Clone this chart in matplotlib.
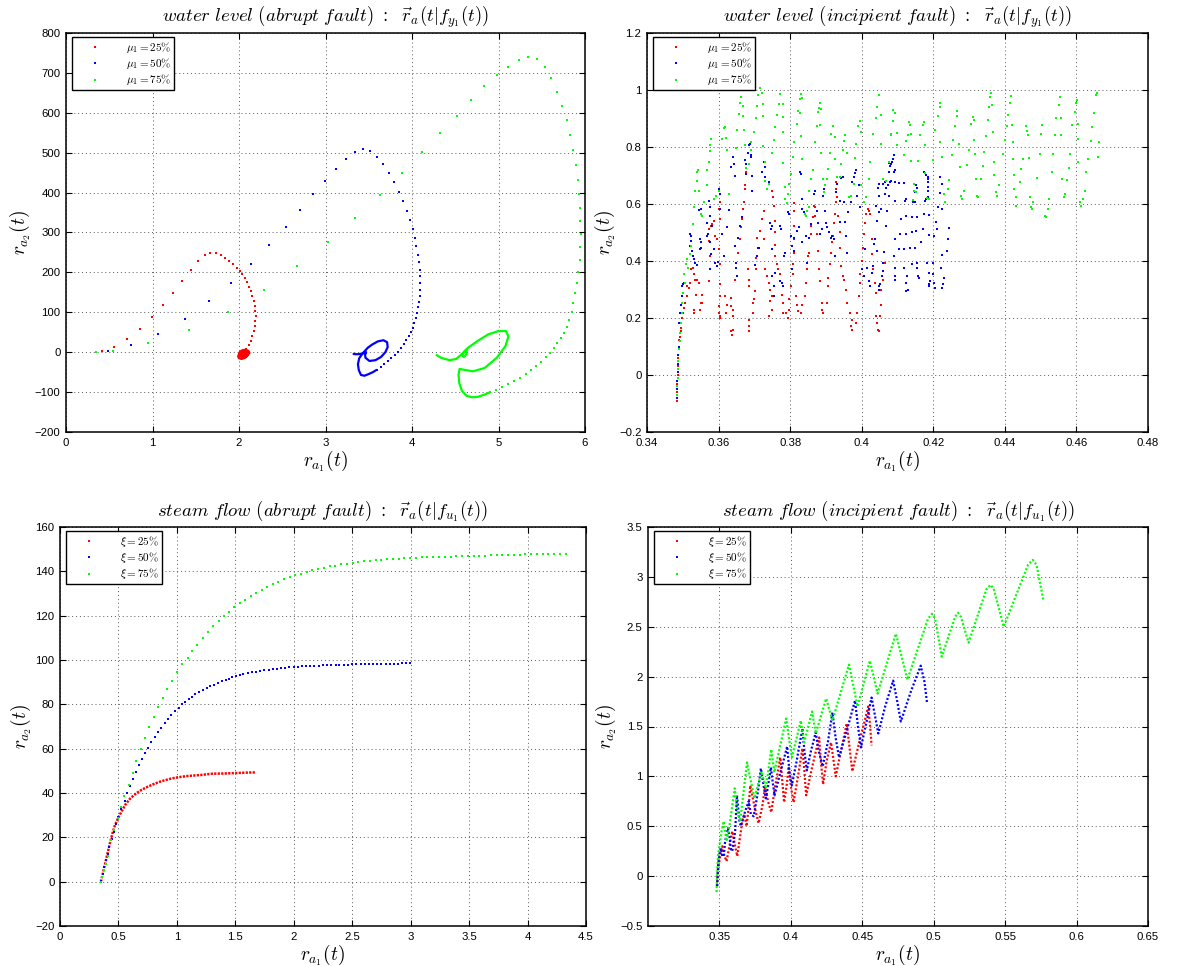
import numpy as np
import matplotlib
matplotlib.use("Agg")
import matplotlib.pyplot as plt
from matplotlib.lines import Line2D
from matplotlib.ticker import FuncFormatter

plt.rcParams['font.family'] = ['Liberation Sans', 'DejaVu Sans']
plt.rcParams['mathtext.fontset'] = 'cm'

RED, BLUE, GREEN = '#ff0000', '#0000ff', '#00ff00'

# ---------------- data: water level, abrupt fault (top-left) ----------------
tl_red_sparse = [(0.347,0),(0.417,2),(0.554,12.6),(0.71,32),(0.858,58),(0.994,88),(1.127,119),(1.24,149),
    (1.345,179),(1.442,205),(1.524,228),(1.602,243),(1.669,249),(1.73,248.5),(1.79,243.5),(1.84,237),
    (1.89,229),(1.934,220),(1.973,211.6),(2.008,203),(2.04,195),(2.066,185),(2.094,175),(2.117,164.6),
    (2.136,153.7),(2.156,141),(2.17,128),(2.183,116),(2.19,103),(2.195,90.7),(2.19,78),(2.183,65.5),
    (2.17,53),(2.156,40),(2.136,27.7),(2.113,16.8),(2.086,8.4),(2.05,2.5)]
tl_red_dense = [(2.05,2.5),(2.02,0),(2.0,-5),(1.99,-11),(2.0,-15),(2.03,-17),(2.07,-14),(2.10,-8),(2.12,-2),
    (2.11,3),(2.08,6),(2.04,5),(2.01,1),(2.0,-5),(2.02,-10),(2.05,-13),(2.08,-11),(2.10,-6),(2.09,-1),
    (2.06,2),(2.03,0),(2.02,-5),(2.03,-9),(2.06,-10),(2.08,-7),(2.07,-3),(2.05,-2),(2.04,-5),(2.05,-7),(2.06,-5)]
tl_blue_sparse = [(0.35,0),(0.483,2.5),(0.756,18.5),(1.068,46),(1.372,84),(1.649,127.6),(1.906,174.6),
    (2.136,221.7),(2.343,269.5),(2.538,314),(2.70,357),(2.858,395.5),(2.998,429),(3.123,460),(3.236,484.5),
    (3.341,502),(3.431,510.5),(3.517,504.6),(3.595,490),(3.669,471),(3.735,450),(3.797,426.5),(3.852,402),
    (3.899,379.5),(3.942,355),(3.977,332.5),(4.008,309),(4.031,286),(4.05,265),(4.07,244),(4.082,225),
    (4.09,206.5),(4.097,190),(4.097,173),(4.097,157),(4.094,141),(4.086,126),(4.074,112.5),(4.062,99),
    (4.047,85.6),(4.027,73),(4.008,61),(3.984,50),(3.961,40),(3.934,30),(3.903,20),(3.871,11),(3.836,1.7),
    (3.801,-6.7),(3.762,-15),(3.723,-22.7),(3.68,-30),(3.637,-37),(3.595,-43.7)]
tl_blue_dense = [(3.595,-43.7),(3.548,-50),(3.497,-55),(3.45,-59),(3.41,-57),(3.385,-45),(3.375,-30),
    (3.39,-15),(3.43,-3),(3.488,11),(3.538,19),(3.604,27),(3.67,30),(3.712,25),(3.719,13),(3.692,0),
    (3.642,-12),(3.577,-20),(3.508,-22),(3.462,-14),(3.458,-6),(3.47,0),(3.431,-3),(3.385,-5),(3.346,-5),(3.315,-4)]
tl_green_sparse = [(0.347,0),(0.542,2.5),(0.951,22),(1.419,56),(1.871,101.6),(2.285,157),(2.674,215),
    (3.025,275),(3.345,336),(3.626,394.6),(3.883,449),(4.113,501),(4.324,549),(4.515,593),(4.682,632),
    (4.838,666),(4.982,694),(5.115,716),(5.236,733),(5.345,741),(5.442,736),(5.532,715),(5.61,687),
    (5.676,653),(5.739,618),(5.79,582),(5.832,544),(5.867,507),(5.895,469),(5.914,431.6),(5.93,397),
    (5.942,362),(5.945,328),(5.949,295),(5.945,263),(5.938,232),(5.922,202),(5.906,174),(5.883,148),
    (5.86,124),(5.848,101),(5.817,80),(5.79,63),(5.76,48.7),(5.72,35),(5.68,22.7),(5.64,11),(5.6,-1),
    (5.548,-12.6),(5.493,-23.5),(5.435,-34),(5.376,-44.5),(5.314,-54.6),(5.248,-64),(5.18,-72),
    (5.11,-80.6),(5.04,-88),(4.97,-95),(4.9,-100.8)]
tl_green_dense = [(4.9,-100.8),(4.834,-106.6),(4.764,-111.7),(4.694,-113),(4.628,-109),(4.577,-96.6),
    (4.546,-77),(4.538,-56),(4.55,-42),(4.6,-44),(4.705,-48),(4.84,-39.5),(4.98,-14),(5.08,15),(5.115,40),
    (5.085,53),(5.0,53),(4.88,44.5),(4.764,29),(4.647,11),(4.6,0),(4.58,-8),(4.6,-12),(4.63,-5),(4.63,7),
    (4.61,2.5),(4.57,-6),(4.51,-17),(4.433,-20),(4.336,-14),(4.277,-6)]

# ---------------- data: water level, incipient fault (top-right) ----------------
tr_red = [(0.3483,-0.09),(0.3484,-0.06),(0.3485,-0.03),(0.3486,0.0),(0.3487,0.03),(0.3488,0.06),(0.3489,0.09),
    (0.3489,0.124),(0.3492,0.135),(0.3495,0.153),(0.3496,0.165),(0.3498,0.2),(0.3501,0.218),(0.3504,0.235),
    (0.3505,0.253),(0.3513,0.276),(0.3513,0.312),(0.3516,0.306),(0.3519,0.324),(0.3523,0.371),(0.3528,0.376),
    (0.3532,0.353),(0.3534,0.335),(0.354,0.335),(0.3546,0.324),(0.3531,0.229),(0.3532,0.218),(0.3537,0.282),
    (0.355,0.253),(0.3553,0.282),(0.3555,0.253),(0.3549,0.229),(0.3573,0.329),(0.3576,0.371),(0.3577,0.418),
    (0.3573,0.471),(0.3573,0.512),(0.3579,0.524),(0.3582,0.529),(0.3586,0.541),(0.3591,0.486),(0.3595,0.476),
    (0.3603,0.547),(0.3602,0.582),(0.3605,0.606),(0.36,0.441),(0.3603,0.388),(0.3605,0.318),(0.3603,0.276),
    (0.3602,0.241),(0.3601,0.218),(0.3603,0.206),(0.3605,0.2),(0.3618,0.276),(0.3623,0.247),(0.3621,0.218),
    (0.3636,0.271),(0.3636,0.241),(0.3641,0.229),(0.3641,0.206),(0.3639,0.159),(0.3637,0.141),(0.3635,0.153),
    (0.3645,0.335),(0.365,0.376),(0.3654,0.429),(0.3659,0.476),(0.3663,0.521),(0.3666,0.549),(0.3669,0.582),
    (0.3672,0.606),(0.3675,0.665),(0.3677,0.712),(0.3675,0.653),(0.3681,0.371),(0.3684,0.335),(0.3686,0.312),
    (0.3684,0.153),(0.3686,0.171),(0.3684,0.194),(0.3695,0.218),(0.3696,0.253),(0.3698,0.265),(0.3702,0.294),
    (0.3704,0.371),(0.3705,0.412),(0.3708,0.482),(0.3717,0.506),(0.372,0.547),(0.3726,0.576),(0.3726,0.476),
    (0.3731,0.371),(0.3735,0.347),(0.374,0.324),(0.3744,0.3),(0.3749,0.276),(0.3744,0.259),(0.374,0.206),
    (0.3749,0.229),(0.375,0.647),(0.3753,0.624),(0.3756,0.594),(0.3758,0.541),(0.3759,0.5),(0.3758,0.455),
    (0.3759,0.418),(0.3762,0.388),(0.3767,0.371),(0.3771,0.353),(0.3776,0.282),(0.378,0.253),(0.378,0.218),
    (0.3789,0.218),(0.3794,0.2),(0.3798,0.229),(0.3798,0.265),(0.3803,0.312),(0.3807,0.353),(0.3807,0.388),
    (0.381,0.429),(0.3812,0.476),(0.381,0.524),(0.3812,0.576),(0.3812,0.604),(0.3816,0.276),(0.3819,0.247),
    (0.3821,0.224),(0.383,0.218),(0.3834,0.247),(0.3841,0.276),(0.3843,0.324),(0.3846,0.371),(0.385,0.418),
    (0.3852,0.429),(0.3857,0.494),(0.3859,0.524),(0.3864,0.556),(0.3867,0.592),(0.387,0.588),(0.387,0.559),
    (0.3875,0.494),(0.3879,0.435),(0.3881,0.371),(0.3884,0.329),(0.3888,0.253),(0.3888,0.229),(0.3893,0.218),
    (0.3902,0.253),(0.3906,0.312),(0.3906,0.341),(0.3911,0.388),(0.3913,0.429),(0.3917,0.465),(0.392,0.488),
    (0.3922,0.535),(0.3924,0.565),(0.3927,0.606),(0.3927,0.653),(0.3929,0.676),(0.3932,0.624),(0.3933,0.559),
    (0.3938,0.5),(0.394,0.447),(0.3942,0.382),(0.3947,0.347),(0.3951,0.335),(0.3956,0.3),(0.396,0.253),
    (0.3967,0.218),(0.3972,0.194),(0.3969,0.171),(0.3974,0.159),(0.3983,0.182),(0.3987,0.218),(0.3992,0.276),
    (0.3994,0.324),(0.3996,0.353),(0.4001,0.4),(0.4003,0.447),(0.4005,0.494),(0.401,0.535),(0.4013,0.565),
    (0.4017,0.582),(0.4021,0.576),(0.4023,0.565),(0.4028,0.476),(0.403,0.424),(0.4032,0.371),(0.4037,0.324),
    (0.4039,0.288),(0.4041,0.206),(0.4044,0.182),(0.4046,0.159),(0.4048,0.153),(0.405,0.206),(0.4053,0.247),
    (0.4055,0.3),(0.4059,0.335),(0.4064,0.394)]
tr_blue = [(0.3483,-0.08),(0.3484,-0.05),(0.3485,-0.02),(0.3486,0.01),(0.3487,0.04),(0.3488,0.07),(0.3489,0.1),
    (0.3489,0.182),(0.3492,0.218),(0.3495,0.247),(0.3498,0.276),(0.3498,0.312),(0.3501,0.318),(0.3504,0.324),
    (0.3519,0.494),(0.3522,0.488),(0.3523,0.471),(0.3521,0.453),(0.3525,0.435),(0.3528,0.418),(0.3531,0.406),
    (0.3534,0.394),(0.354,0.385),(0.3549,0.441),(0.355,0.447),(0.3552,0.465),(0.3548,0.476),(0.3546,0.58),
    (0.355,0.582),(0.3567,0.535),(0.3568,0.488),(0.357,0.494),(0.3573,0.612),(0.3575,0.588),(0.3577,0.559),
    (0.3582,0.524),(0.3577,0.467),(0.3579,0.424),(0.3577,0.371),(0.3586,0.441),(0.3591,0.394),(0.3595,0.382),
    (0.3598,0.396),(0.3603,0.634),(0.36,0.646),(0.3602,0.653),(0.3605,0.582),(0.3609,0.494),(0.3614,0.418),
    (0.3623,0.521),(0.3628,0.58),(0.3636,0.729),(0.3641,0.765),(0.3642,0.741),(0.3647,0.698),(0.3646,0.451),
    (0.3648,0.394),(0.365,0.376),(0.3651,0.347),(0.3654,0.482),(0.366,0.524),(0.3666,0.553),(0.3673,0.753),
    (0.3677,0.706),(0.3678,0.741),(0.3682,0.779),(0.3686,0.806),(0.3687,0.809),(0.369,0.771),(0.3692,0.765),
    (0.3693,0.698),(0.3694,0.646),(0.3702,0.385),(0.3706,0.418),(0.3709,0.447),(0.3714,0.446),(0.3722,0.712),
    (0.3726,0.747),(0.3729,0.729),(0.3731,0.694),(0.374,0.676),(0.3744,0.535),(0.3747,0.512),(0.3749,0.524),
    (0.375,0.441),(0.375,0.347),(0.3754,0.312),(0.3756,0.276),(0.3759,0.359),(0.3771,0.329),(0.3771,0.524),
    (0.3774,0.512),(0.3778,0.324),(0.3781,0.312),(0.3783,0.418),(0.3785,0.429),(0.3795,0.571),(0.3797,0.565),
    (0.3803,0.488),(0.3805,0.453),(0.3806,0.371),(0.381,0.435),(0.3812,0.482),(0.3819,0.506),(0.3826,0.521),
    (0.3828,0.712),(0.383,0.706),(0.3834,0.618),(0.3832,0.582),(0.3834,0.465),(0.3839,0.571),(0.3843,0.488),
    (0.3848,0.394),(0.3852,0.482),(0.3859,0.529),(0.3866,0.635),(0.3864,0.718),(0.387,0.647),(0.3875,0.576),
    (0.3878,0.535),(0.3884,0.494),(0.3888,0.512),(0.3891,0.629),(0.3895,0.653),(0.3897,0.576),(0.39,0.535),
    (0.3902,0.518),(0.3908,0.5),(0.3913,0.482),(0.3918,0.488),(0.3922,0.476),(0.3925,0.418),(0.3929,0.641),
    (0.3932,0.671),(0.3938,0.612),(0.394,0.538),(0.3943,0.691),(0.3947,0.694),(0.395,0.608),(0.3954,0.538),
    (0.3956,0.488),(0.3959,0.429),(0.3963,0.571),(0.3969,0.606),(0.3974,0.676),(0.3978,0.694),(0.3981,0.709),
    (0.3985,0.718),(0.3987,0.629),(0.3992,0.665),(0.3996,0.588),(0.4001,0.371),(0.4005,0.347),(0.401,0.441),
    (0.4014,0.376),(0.4019,0.329),(0.4023,0.312),(0.4028,0.359),(0.4031,0.382),(0.4035,0.459),(0.4044,0.541),
    (0.4049,0.571),(0.4055,0.582),(0.4064,0.635),(0.4068,0.656),(0.4075,0.714),(0.408,0.732),(0.4078,0.676),
    (0.409,0.773),(0.4087,0.759),(0.4085,0.747),(0.4081,0.741),(0.4076,0.745),(0.4094,0.721),(0.409,0.712),
    (0.4083,0.682),(0.4078,0.676),(0.4074,0.665),(0.4065,0.676),(0.406,0.671),(0.4047,0.671),(0.4045,0.655),
    (0.4049,0.629),(0.4076,0.629),(0.4092,0.612),(0.4092,0.676),(0.4105,0.673),(0.4119,0.674),(0.4121,0.612),
    (0.4123,0.618),(0.4144,0.606),(0.4148,0.608),(0.4153,0.667),(0.415,0.641),(0.4155,0.655),(0.4175,0.712),
    (0.418,0.702),(0.4184,0.694),(0.4186,0.688),(0.4186,0.676),(0.4185,0.659),(0.4186,0.647),(0.4184,0.624),
    (0.418,0.618),(0.4177,0.612),(0.422,0.694),(0.4223,0.671),(0.4218,0.638),(0.4214,0.588),(0.4223,0.582),
    (0.404,0.594),(0.4072,0.576),(0.411,0.549),(0.4123,0.559),(0.4141,0.553),(0.4155,0.555),(0.4175,0.564),
    (0.4189,0.561),(0.4207,0.538),(0.4209,0.512),(0.4243,0.515),(0.4241,0.476),(0.4238,0.435),(0.4225,0.42),
    (0.4221,0.376),(0.4229,0.341),(0.4227,0.318),(0.4225,0.306),(0.4069,0.524),(0.4092,0.476),(0.4108,0.494),
    (0.4123,0.496),(0.4141,0.502),(0.4153,0.506),(0.4171,0.514),(0.4189,0.491),(0.4202,0.488),(0.4166,0.467),
    (0.415,0.447),(0.4135,0.445),(0.4119,0.441),(0.4103,0.441),(0.409,0.418),(0.4063,0.432),(0.4042,0.435),
    (0.4038,0.476),(0.406,0.394),(0.4059,0.365),(0.4056,0.347),(0.4051,0.318),(0.4047,0.314),(0.4049,0.298),
    (0.4092,0.376),(0.4094,0.347),(0.4092,0.335),(0.4119,0.376),(0.4126,0.349),(0.4123,0.324),(0.4123,0.294),
    (0.4128,0.3),(0.4155,0.376),(0.4157,0.347),(0.4159,0.341),(0.4155,0.394),(0.4141,0.388),(0.4182,0.394),
    (0.4189,0.359),(0.4191,0.329),(0.4189,0.312),(0.4187,0.318),(0.4198,0.394),(0.4198,0.353),(0.4202,0.324),
    (0.4205,0.306)]
tr_green = [(0.3484,-0.07),(0.3485,-0.04),(0.3486,-0.01),(0.3487,0.02),(0.3488,0.05),(0.349,0.09),(0.3491,0.12),
    (0.3492,0.149),(0.3495,0.182),(0.3498,0.218),(0.3498,0.253),(0.3501,0.288),(0.3505,0.324),(0.3504,0.356),
    (0.351,0.388),(0.3514,0.376),(0.3513,0.406),(0.3519,0.424),(0.3523,0.453),(0.3528,0.529),(0.3531,0.588),
    (0.3535,0.644),(0.354,0.682),(0.354,0.712),(0.3543,0.718),(0.3546,0.644),(0.355,0.565),(0.3553,0.559),
    (0.3559,0.606),(0.3567,0.665),(0.3568,0.718),(0.3573,0.747),(0.3576,0.785),(0.3576,0.806),(0.358,0.829),
    (0.3588,0.618),(0.3594,0.629),(0.36,0.647),(0.3609,0.829),(0.3614,0.865),(0.3618,0.871),(0.3621,0.832),
    (0.3623,0.788),(0.363,0.634),(0.365,0.796),(0.3652,0.859),(0.3657,0.915),(0.366,0.953),(0.3664,0.976),
    (0.3669,0.945),(0.3669,0.908),(0.367,0.859),(0.3673,0.808),(0.3677,0.727),(0.3684,0.741),(0.369,0.788),
    (0.369,0.818),(0.3699,0.853),(0.3704,0.902),(0.3708,0.945),(0.3711,0.982),(0.3717,1.006),(0.3722,0.988),
    (0.3723,0.952),(0.3723,0.909),(0.3724,0.802),(0.3729,0.747),(0.3731,0.682),(0.3735,0.653),(0.3741,0.671),
    (0.3749,0.779),(0.3755,0.824),(0.3759,0.869),(0.3764,0.913),(0.3768,0.952),(0.3773,0.985),(0.3779,0.952),
    (0.3779,0.906),(0.378,0.853),(0.378,0.744),(0.3785,0.659),(0.3787,0.618),(0.379,0.604),(0.3794,0.635),
    (0.3797,0.671),(0.3803,0.706),(0.3807,0.765),(0.381,0.818),(0.3819,0.879),(0.3823,0.927),(0.3828,0.968),
    (0.3831,0.987),(0.3832,0.971),(0.3828,0.921),(0.383,0.839),(0.3834,0.759),(0.3841,0.565),(0.3843,0.558),
    (0.3848,0.576),(0.3852,0.588),(0.3854,0.645),(0.3859,0.686),(0.3864,0.718),(0.387,0.818),(0.3875,0.875),
    (0.3878,0.924),(0.3882,0.938),(0.3884,0.956),(0.3886,0.935),(0.3884,0.876),(0.3886,0.778),(0.3891,0.686),
    (0.3895,0.641),(0.3897,0.665),(0.3902,0.688),(0.3906,0.724),(0.3911,0.779),(0.3915,0.847),(0.392,0.873),
    (0.3924,0.835),(0.3924,0.759),(0.3932,0.694),(0.3938,0.696),(0.3943,0.741),(0.3947,0.788),(0.3951,0.82),
    (0.3954,0.841),(0.3959,0.78),(0.3965,0.624),(0.3969,0.629),(0.3978,0.671),(0.398,0.761),(0.3985,0.812),
    (0.399,0.874),(0.3994,0.891),(0.3997,0.851),(0.3999,0.665),(0.4006,0.606),(0.4013,0.624),(0.4019,0.688),
    (0.4023,0.747),(0.4032,0.847),(0.4039,0.9),(0.4044,0.941),(0.4049,0.982),(0.4053,0.914),(0.4055,0.812),
    (0.4059,0.688),(0.4068,0.679),(0.4075,0.747),(0.4082,0.841),
    (0.4087,0.929),(0.4093,0.918),(0.4087,0.891),(0.4099,0.849),(0.4083,0.844),(0.4099,0.806),(0.4119,0.773),
    (0.4123,0.82),(0.413,0.841),(0.4131,0.888),(0.4135,0.876),(0.4137,0.844),(0.4137,0.752),(0.4146,0.669),
    (0.4153,0.641),(0.4146,0.647),(0.4144,0.615),(0.4157,0.752),(0.4164,0.841),(0.417,0.876),(0.4173,0.888),
    (0.4176,0.806),(0.4176,0.709),(0.4182,0.62),(0.4187,0.618),(0.42,0.756),(0.4205,0.859),(0.4214,0.909),
    (0.4218,0.941),(0.422,0.954),(0.4219,0.818),(0.4225,0.764),(0.4231,0.635),(0.4234,0.608),(0.4241,0.651),
    (0.4243,0.685),(0.4252,0.773),(0.4256,0.824),(0.4261,0.873),(0.4265,0.909),(0.4267,0.926),(0.4272,0.809),
    (0.4274,0.729),(0.4277,0.629),(0.4281,0.618),(0.4287,0.646),(0.4295,0.738),(0.4299,0.788),(0.4306,0.882),
    (0.431,0.906),(0.4313,0.894),(0.4315,0.824),(0.4317,0.776),(0.4319,0.688),(0.4322,0.629),(0.4326,0.624),
    (0.4333,0.688),(0.4338,0.733),(0.4342,0.782),(0.4346,0.839),(0.4353,0.894),(0.4355,0.941),(0.4359,0.976),
    (0.4362,0.988),(0.4365,0.947),(0.4366,0.851),(0.4369,0.749),(0.4371,0.702),(0.4374,0.641),(0.4378,0.627),
    (0.4385,0.667),(0.4396,0.776),(0.44,0.824),(0.4405,0.873),(0.4409,0.914),(0.4414,0.953),(0.4418,0.98),
    (0.442,0.876),(0.4423,0.818),(0.4423,0.759),(0.4425,0.7),(0.4425,0.653),(0.443,0.624),(0.4432,0.594),
    (0.4441,0.676),(0.4446,0.724),(0.4452,0.759),(0.4459,0.873),(0.4463,0.855),(0.4466,0.841),(0.4468,0.761),
    (0.447,0.624),(0.4473,0.591),(0.4476,0.582),(0.4479,0.606),(0.449,0.691),(0.4497,0.776),(0.4502,0.844),
    (0.4505,0.876),(0.4511,0.559),(0.4515,0.553),(0.452,0.582),(0.4524,0.618),(0.4532,0.712),(0.4535,0.776),
    (0.454,0.841),(0.4544,0.902),(0.4551,0.947),(0.4554,0.976),(0.4556,0.9),(0.4556,0.841),(0.456,0.688),
    (0.4565,0.624),(0.4569,0.635),(0.4574,0.685),(0.4578,0.726),(0.4583,0.776),(0.4589,0.876),(0.4595,0.924),
    (0.4598,0.956),(0.4601,0.965),(0.4604,0.879),(0.4605,0.827),(0.4605,0.747),(0.461,0.606),(0.4614,0.594),
    (0.4619,0.618),(0.4623,0.647),(0.4628,0.714),(0.4632,0.759),(0.464,0.82),(0.4643,0.871),(0.4649,0.918),
    (0.4655,0.982),(0.4658,0.988),(0.466,0.765),(0.4662,0.818)]

# ---------------- data: steam flow, abrupt fault (bottom-left) ----------------
bl_red = [(0.35,0),(0.37,4.5),(0.39,9),(0.41,13.5),(0.43,18),(0.45,22),(0.47,25.5),(0.5,29),(0.53,32),
    (0.56,34.8),(0.6,37.5),(0.65,39.8),(0.7,41.5),(0.75,42.8),(0.8,44),(0.85,45),(0.9,45.8),(0.95,46.5),
    (1.0,47),(1.05,47.4),(1.1,47.7),(1.2,48.1),(1.3,48.7),(1.4,48.8),(1.5,49),(1.6,49.2),(1.67,49.3)]
bl_blue = [(0.351,0.5),(0.365,3.6),(0.38,6.6),(0.394,9.6),(0.408,12.7),(0.423,15.7),(0.443,19.4),(0.46,22.4),
    (0.48,25.8),(0.5,29.2),(0.525,33),(0.552,36.3),(0.574,40),(0.598,43.3),(0.623,46.5),(0.646,49.5),
    (0.672,52.6),(0.70,55.3),(0.729,58.1),(0.752,60.5),(0.781,62.8),(0.809,65.1),(0.838,67.3),(0.867,69.4),
    (0.895,71.4),(0.924,73.3),(0.953,75.2),(0.987,77),(1.016,78.5),(1.044,80),(1.073,81.2),(1.102,82.4),
    (1.13,83.4),(1.159,84.5),(1.188,85.4),(1.222,86.4),(1.256,87.3),(1.285,88.3),(1.314,88.9),(1.348,89.6),
    (1.383,90.4),(1.417,91),(1.446,91.6),(1.474,92.2),(1.503,92.7),(1.54,93.1),(1.569,93.5),(1.606,94),
    (1.64,94.4),(1.675,94.7),(1.712,95),(1.746,95.3),(1.784,95.6),(1.818,95.9),(1.855,96.1),(1.89,96.4),
    (1.927,96.5),(1.961,96.7),(1.999,96.8),(2.033,97),(2.07,97.1),(2.105,97.3),(2.142,97.4),(2.176,97.4),
    (2.213,97.5),(2.248,97.6),(2.285,97.7),(2.319,97.7),(2.357,97.7),(2.391,97.8),(2.428,97.9),(2.463,97.9),
    (2.5,98),(2.534,98),(2.572,98.1),(2.606,98.1),(2.643,98.2),(2.678,98.2),(2.715,98.3),(2.749,98.3),
    (2.787,98.3),(2.821,98.4),(2.855,98.4),(2.89,98.4),(2.925,98.5),(2.96,98.5),(2.995,98.5)]
bl_green = [(0.352,0),(0.362,2.2),(0.378,5.2),(0.392,8),(0.41,11.5),(0.437,18.7),(0.466,23.2),(0.494,28.5),
    (0.52,33.5),(0.548,38.7),(0.588,43.8),(0.621,49.2),(0.654,54.5),(0.69,59.8),(0.723,64.9),(0.762,69.7),
    (0.802,74.3),(0.838,78.6),(0.877,82.9),(0.917,86.9),(0.959,90.7),(1.002,94.5),(1.045,98),(1.091,101.1),
    (1.133,104.2),(1.176,106.9),(1.222,109.9),(1.268,112.6),(1.311,115.2),(1.357,117.6),(1.403,119.8),
    (1.449,121.8),(1.491,123.8),(1.537,125.6),(1.583,127.2),(1.633,128.9),(1.679,130.4),(1.725,131.8),
    (1.774,133.1),(1.823,134.3),(1.869,135.4),(1.919,136.5),(1.968,137.4),(2.014,138.3),(2.063,139),
    (2.112,139.8),(2.158,140.5),(2.208,141.1),(2.257,141.7),(2.306,142.2),(2.355,142.6),(2.405,143.1),
    (2.454,143.5),(2.503,143.8),(2.553,144.2),(2.602,144.5),(2.651,144.8),(2.70,145.1),(2.75,145.2),
    (2.799,145.4),(2.848,145.5),(2.898,145.7),(2.947,145.8),(2.996,146),(3.045,146.1),(3.095,146.3),
    (3.144,146.3),(3.193,146.4),(3.242,146.5),(3.292,146.6),(3.341,146.6),(3.39,146.7),(3.44,146.8),
    (3.489,146.9),(3.538,146.9),(3.587,147),(3.637,147.1),(3.686,147.2),(3.735,147.2),(3.785,147.3),
    (3.834,147.4),(3.883,147.5),(3.932,147.5),(3.982,147.6),(4.031,147.6),(4.08,147.7),(4.129,147.7),
    (4.179,147.8),(4.228,147.8),(4.277,147.8),(4.327,147.8)]

# ---------------- data: steam flow, incipient fault (bottom-right) ----------------
br_red = [(0.3482,-0.1),(0.349,0.05),(0.3505,0.2),(0.352,0.3),(0.3535,0.2),(0.355,0.15),(0.357,0.3),(0.359,0.45),
    (0.361,0.3),(0.3625,0.2),(0.364,0.35),(0.366,0.55),(0.3675,0.62),(0.369,0.5),(0.3705,0.7),(0.3716,0.91),
    (0.3745,0.7),(0.3774,0.53),(0.380,0.7),(0.382,0.9),(0.384,0.75),(0.3863,0.64),(0.389,0.9),(0.3926,1.19),
    (0.394,0.95),(0.3953,0.74),(0.397,0.9),(0.3985,1.1),(0.4,0.9),(0.4019,0.74),(0.405,1.0),(0.4081,1.28),
    (0.4095,1.05),(0.4107,0.81),(0.415,1.1),(0.4198,1.39),(0.421,1.15),(0.4226,0.92),(0.425,1.15),(0.4281,1.34),
    (0.43,1.15),(0.4314,1.0),(0.435,1.25),(0.4391,1.53),(0.441,1.3),(0.443,1.05),(0.448,1.35),(0.4542,1.70),
    (0.4555,1.5),(0.4565,1.31)]
br_blue = [(0.3485,-0.1),(0.349,0.1),(0.350,0.22),(0.351,0.28),(0.352,0.2),(0.353,0.2),(0.354,0.35),(0.356,0.48),
    (0.357,0.4),(0.358,0.27),(0.359,0.25),(0.361,0.45),(0.3623,0.81),(0.364,0.55),(0.365,0.5),(0.368,0.65),
    (0.3705,0.75),(0.372,0.62),(0.374,0.6),(0.377,0.85),(0.379,1.08),(0.381,0.9),(0.3825,0.78),(0.384,0.9),
    (0.386,1.09),(0.3875,0.92),(0.3886,0.81),(0.392,1.0),(0.3974,1.30),(0.399,1.05),(0.4007,0.91),(0.404,1.15),
    (0.4081,1.48),(0.4095,1.25),(0.4112,1.06),(0.414,1.25),(0.4174,1.44),(0.4195,1.25),(0.4223,1.10),(0.426,1.35),
    (0.4291,1.64),(0.4312,1.4),(0.4337,1.19),(0.439,1.45),(0.4449,1.76),(0.447,1.5),(0.4491,1.29),(0.453,1.55),
    (0.4565,1.79),(0.459,1.6),(0.4612,1.43),(0.466,1.7),(0.4716,1.96),(0.4745,1.75),(0.477,1.55),(0.484,1.85),
    (0.4909,2.11),(0.4935,1.95),(0.4953,1.74)]
br_green = [(0.348,-0.16),(0.3485,0.05),(0.349,0.2),(0.350,0.3),(0.3515,0.45),(0.353,0.55),(0.354,0.45),
    (0.355,0.35),(0.357,0.5),(0.3607,0.88),(0.3625,0.65),(0.3645,0.55),(0.3693,1.14),(0.3745,0.78),(0.3795,1.05),
    (0.3825,0.88),(0.3863,1.27),(0.3884,1.04),(0.3967,1.58),(0.4007,1.19),(0.407,1.56),(0.4093,1.34),
    (0.4149,1.65),(0.4174,1.43),(0.4247,1.78),(0.4291,1.56),(0.4407,2.12),(0.4467,1.70),(0.4553,2.16),
    (0.4607,1.83),(0.4735,2.43),(0.4816,1.97),(0.496,2.58),(0.4988,2.63),(0.501,2.58),(0.5056,2.20),
    (0.515,2.6),(0.517,2.64),(0.519,2.6),(0.5244,2.34),(0.537,2.88),(0.5398,2.92),(0.542,2.88),(0.549,2.50),
    (0.566,3.12),(0.5693,3.17),(0.572,3.12),(0.5767,2.77)]

# ---------------- labels ----------------
tl_labels = [r'$\mu_1 = 25\%$', r'$\mu_1 = 50\%$', r'$\mu_1 = 75\%$']
bl_labels = [r'$\xi = 25\%$', r'$\xi = 50\%$', r'$\xi = 75\%$']
titles = [r'$water\ level\ (abrupt\ fault)\ :\ \ \vec{r}_a(t|f_{y_1}(t))$',
          r'$water\ level\ (incipient\ fault)\ :\ \ \vec{r}_a(t|f_{y_1}(t))$',
          r'$steam\ flow\ (abrupt\ fault)\ :\ \ \vec{r}_a(t|f_{u_1}(t))$',
          r'$steam\ flow\ (incipient\ fault)\ :\ \ \vec{r}_a(t|f_{u_1}(t))$']
xlab = r'$r_{a_1}(t)$'
ylab = r'$r_{a_2}(t)$'

tl_xticks = [0, 1, 2, 3, 4, 5, 6]
tl_yticks = [-200, -100, 0, 100, 200, 300, 400, 500, 600, 700, 800]
tr_xticks = [0.34, 0.36, 0.38, 0.40, 0.42, 0.44, 0.46, 0.48]
tr_yticks = [-0.2, 0, 0.2, 0.4, 0.6, 0.8, 1.0, 1.2]
bl_xticks = [0, 0.5, 1, 1.5, 2, 2.5, 3, 3.5, 4, 4.5]
bl_yticks = [-20, 0, 20, 40, 60, 80, 100, 120, 140, 160]
br_xticks = [0.35, 0.40, 0.45, 0.50, 0.55, 0.60, 0.65]
br_yticks = [-0.5, 0, 0.5, 1, 1.5, 2, 2.5, 3, 3.5]

# ---------------- drawing ----------------
W, H = 1184, 966
fig = plt.figure(figsize=(W/100, H/100), dpi=100)

def rect(l, r, t, b):
    return [l/W, 1 - b/H, (r-l)/W, (b-t)/H]

ax_tl = fig.add_axes(rect(66, 585, 33, 432))
ax_tr = fig.add_axes(rect(647, 1148, 33, 432))
ax_bl = fig.add_axes(rect(60, 586, 527, 926))
ax_br = fig.add_axes(rect(648, 1148, 527, 926))

def xy(pairs):
    a = np.asarray(pairs, float)
    return a[:, 0], a[:, 1]

MS = 2.0
def dots(ax, pairs, c):
    x, y = xy(pairs)
    ax.plot(x, y, linestyle='none', marker='s', ms=MS, mew=0, color=c)

def dense(ax, pairs, c, lw=1.6, ls='-'):
    x, y = xy(pairs)
    ax.plot(x, y, linestyle=ls, lw=lw, color=c, solid_capstyle='butt')

fmt = FuncFormatter(lambda v, p: ('%g' % v).replace('-', '\u2212'))

def style(ax, xt, yt, xl, yl, title, labels):
    ax.set_xlim(xl); ax.set_ylim(yl)
    ax.set_xticks(xt); ax.set_yticks(yt)
    ax.xaxis.set_major_formatter(fmt); ax.yaxis.set_major_formatter(fmt)
    ax.grid(True, linestyle=(0, (1, 3)), color='0.35', lw=0.7)
    ax.tick_params(direction='in', length=4, width=0.8, top=True, right=True, labelsize=8.2, pad=4)
    for s in ax.spines.values():
        s.set_linewidth(1.1)
    ax.set_title(title, fontsize=13.5, pad=8)
    ax.set_xlabel(xlab, fontsize=14, labelpad=1)
    ax.set_ylabel(ylab, fontsize=14, labelpad=1)
    handles = [Line2D([], [], linestyle='none', marker='s', ms=2, mew=0, color=c) for c in (RED, BLUE, GREEN)]
    leg = ax.legend(handles, labels, loc='upper left', bbox_to_anchor=(0.012, 0.99), borderaxespad=0,
                    fontsize=8, fancybox=False, framealpha=1, edgecolor='k', handlelength=3.6,
                    handletextpad=1.0, labelspacing=0.12, borderpad=0.25)
    leg.get_frame().set_linewidth(1.0)

# top-left
dots(ax_tl, tl_red_sparse, RED); dense(ax_tl, tl_red_dense, RED, lw=1.6)
dots(ax_tl, tl_blue_sparse, BLUE); dense(ax_tl, tl_blue_dense, BLUE, lw=1.6)
dots(ax_tl, tl_green_sparse, GREEN); dense(ax_tl, tl_green_dense, GREEN, lw=1.6)
style(ax_tl, tl_xticks, tl_yticks, (0, 6), (-200, 800), titles[0], tl_labels)

# top-right
dots(ax_tr, tr_red, RED); dots(ax_tr, tr_blue, BLUE); dots(ax_tr, tr_green, GREEN)
style(ax_tr, tr_xticks, tr_yticks, (0.34, 0.48), (-0.2, 1.2), titles[1], tl_labels)

# bottom-left
dense(ax_bl, bl_red, RED, lw=1.8, ls=(0, (0.9, 0.5)))
dots(ax_bl, bl_blue, BLUE); dots(ax_bl, bl_green, GREEN)
style(ax_bl, bl_xticks, bl_yticks, (0, 4.5), (-20, 160), titles[2], bl_labels)

# bottom-right
DOT = (0, (0.9, 0.9))
dense(ax_br, br_red, RED, lw=1.6, ls=DOT)
dense(ax_br, br_blue, BLUE, lw=1.6, ls=DOT)
dense(ax_br, br_green, GREEN, lw=1.6, ls=DOT)
style(ax_br, br_xticks, br_yticks, (0.3, 0.65), (-0.5, 3.5), titles[3], bl_labels)

fig.savefig('out.png', dpi=100)
